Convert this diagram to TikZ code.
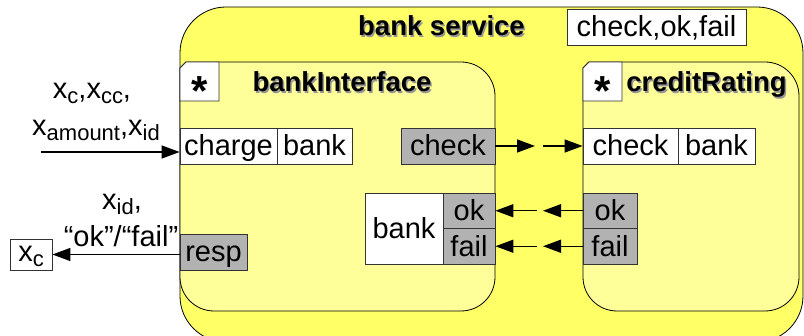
\documentclass[tikz,border=0pt]{standalone}
\usepackage{fontspec}
\setmainfont{Liberation Sans}
\usetikzlibrary{arrows.meta,calc}
\definecolor{outerY}{RGB}{255,255,102}
\definecolor{innerY}{RGB}{255,255,153}
\definecolor{portG}{RGB}{178,178,178}
\definecolor{shade}{RGB}{150,150,150}
% lowered, smaller index text
\newcommand\sbs[1]{\raisebox{-5pt}{\fontsize{22pt}{22pt}\selectfont #1}}

\begin{document}
\begin{tikzpicture}[x=1pt,y=-1pt,
  lbl/.style={font=\fontsize{29pt}{31pt}\selectfont, inner sep=0pt},
  port/.style={draw=black!80, line width=0.8pt, inner sep=0pt, minimum height=36pt,
    text height=22pt, text depth=2pt, font=\fontsize{29pt}{31pt}\selectfont},
  wport/.style={port, fill=white},
  gport/.style={port, fill=portG},
  ttl/.style={font=\fontsize{27.5pt}{30pt}\selectfont\bfseries, inner sep=0pt, anchor=base},
  ttlshadow/.style={ttl, text=shade},
  star/.style={font=\fontsize{42pt}{42pt}\selectfont\bfseries, inner sep=0pt, anchor=base},
  arr/.style={line width=1.4pt, -{Triangle[length=18pt,width=13pt]}},
  compo/.style={draw=black, line width=0.8pt, fill=innerY},
  starbox/.style={draw=black!80, line width=0.8pt, fill=white},
]
\path[use as bounding box] (0,0) rectangle (804,336);
\clip (0,0) rectangle (804,336);

% enclosing service
\draw[black, line width=0.8pt, fill=outerY, rounded corners=46pt] (180,7) rectangle (803,342);

% components: chamfered top-left corner, quarter-circle corners elsewhere (r = 34)
\draw[compo] (180,68) -- (186,62) -- (461,62)
  .. controls (479.8,62) and (495,77.2) .. (495,96) -- (495,277)
  .. controls (495,295.8) and (479.8,311) .. (461,311) -- (214,311)
  .. controls (195.2,311) and (180,295.8) .. (180,277) -- cycle;
\draw[compo] (583,68) -- (589,62) -- (765,62)
  .. controls (783.8,62) and (799,77.2) .. (799,96) -- (799,277)
  .. controls (799,295.8) and (783.8,311) .. (765,311) -- (617,311)
  .. controls (598.2,311) and (583,295.8) .. (583,277) -- cycle;

% multiplicity boxes
\draw[starbox] (180,68) -- (186,62) -- (219,62) -- (219,101) -- (180,101) -- cycle;
\draw[starbox] (583,68) -- (589,62) -- (622,62) -- (622,101) -- (583,101) -- cycle;
\node[star] (starL) at (199.5,106) {*};
\node[star] (starR) at (602.5,106) {*};

% titles with drop shadow
\node[ttlshadow] (svcS) at (443,37.5) {bank service};
\node[ttl] (svc) at (441.5,36) {bank service};
\node[ttlshadow] (biS) at (343.5,93.5) {bankInterface};
\node[ttl] (bi) at (342,92) {bankInterface};
\node[ttlshadow] (crS) at (708,93.5) {creditRating};
\node[ttl] (cr) at (706.5,92) {creditRating};

% signature
\node[wport, minimum width=179pt] (sig) at (656.5,27) {check,ok,fail};

% ports
\node[wport, minimum width=97pt] (charge) at (228.5,146) {charge};
\node[wport, minimum width=75pt] (bankL) at (314.5,146) {bank};
\node[gport, minimum width=94pt] (checkL) at (448,146) {check};
\node[wport, minimum width=95pt] (checkR) at (630.5,146) {check};
\node[wport, minimum width=77pt] (bankR) at (716.5,146) {bank};
\node[wport, minimum width=78pt, minimum height=71pt] (bankP) at (404,228.5) {bank};
\node[gport, minimum width=52pt, minimum height=35.5pt] (okL) at (469,210.75) {ok};
\node[gport, minimum width=52pt, minimum height=35.5pt] (failL) at (469,246.25) {fail};
\node[gport, minimum width=54pt, minimum height=35.5pt] (okR) at (610,210.75) {ok};
\node[gport, minimum width=54pt, minimum height=35.5pt] (failR) at (610,246.25) {fail};
\node[gport, minimum width=67pt] (resp) at (213.5,252) {resp};
\node[wport, minimum width=42pt, minimum height=31pt, text height=20pt, text depth=5pt] (xc) at (31,254.5) {x\sbs{c}};

% message labels
\node[lbl, anchor=base] (inA) at (92,99) {x\sbs{c},x\sbs{cc},};
\node[lbl, anchor=base] (inB) at (96,136) {x\sbs{amount},x\sbs{id}};
\node[lbl, anchor=base] (outA) at (122,210) {x\sbs{id},};
\node[lbl, anchor=base] (outB) at (121,247) {“ok”/“fail”};

% connectors
\coordinate (inStart) at (41,152);
\draw[arr] (inStart) -- ($(charge.west)+(0,6)$);
\draw[arr] (resp.west |- xc.east) -- (xc.east);

\coordinate (chkA) at (535,146);
\coordinate (chkB) at (543,146);
\draw[arr] (checkL.east) -- (chkA);
\draw[arr] (chkB) -- (checkR.west);

\coordinate (okA) at (543,210.75);
\coordinate (okB) at (537,210.75);
\draw[arr] (okR.west) -- (okA);
\draw[arr] (okB) -- (okL.east);

\coordinate (failA) at (543,246.25);
\coordinate (failB) at (537,246.25);
\draw[arr] (failR.west) -- (failA);
\draw[arr] (failB) -- (failL.east);
\end{tikzpicture}
\end{document}
